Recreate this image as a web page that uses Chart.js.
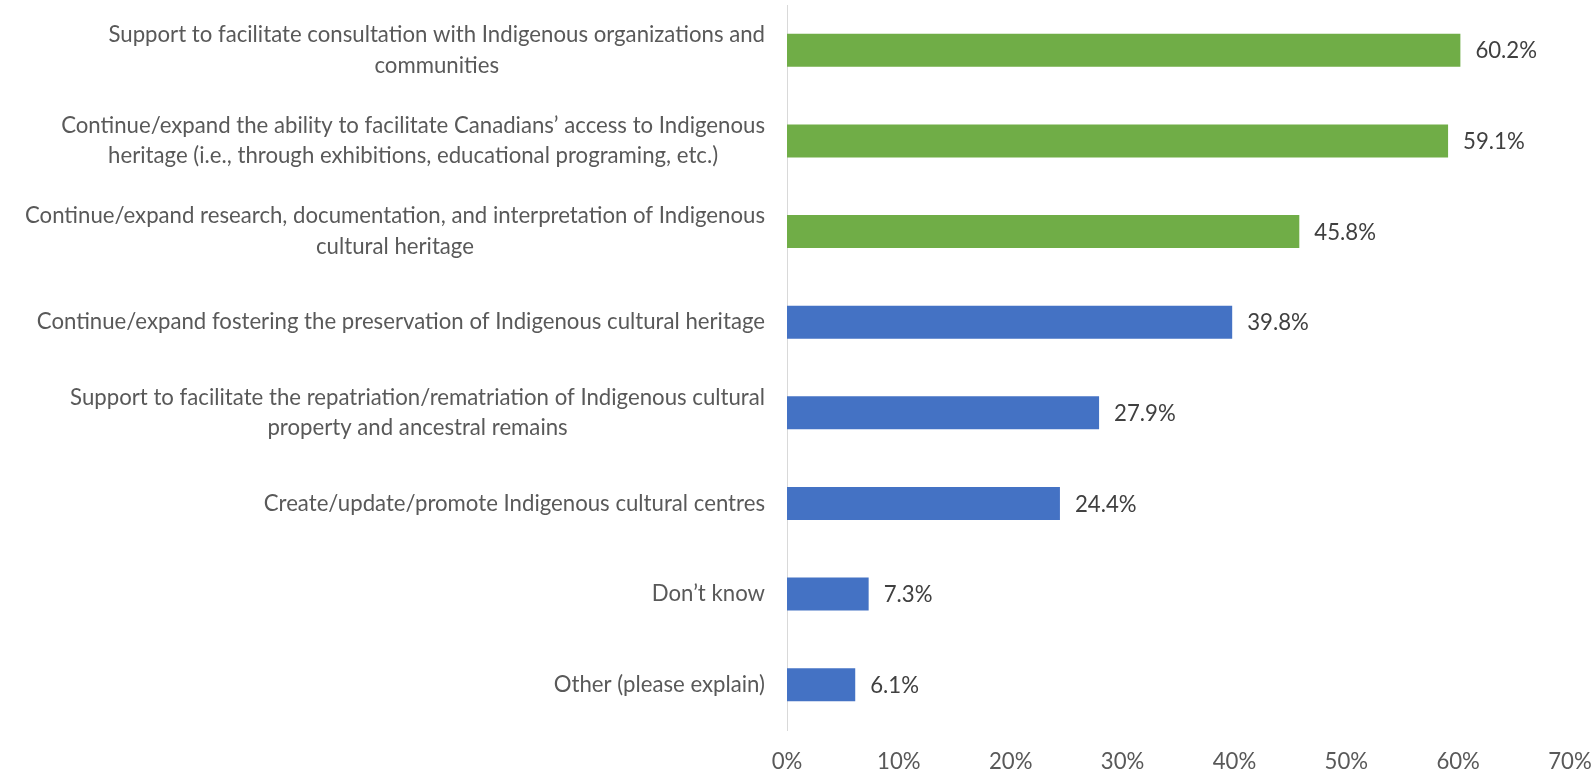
<!DOCTYPE html>
<html>
<head>
<meta charset="utf-8">
<script src="https://cdn.jsdelivr.net/npm/chart.js@4/dist/chart.umd.min.js"></script>
<style>
html,body{margin:0;padding:0;background:#fff;}
#wrap{width:1594px;height:772px;position:relative;}
</style>
</head>
<body>
<div id="wrap"><canvas id="c" width="1594" height="772"></canvas></div>
<script>
const categories = [
  ["Support to facilitate consultation with Indigenous organizations and", "communities"],
  ["Continue/expand the ability to facilitate Canadians\u2019 access to Indigenous", "heritage (i.e., through exhibitions, educational programing, etc.)"],
  ["Continue/expand research, documentation, and interpretation of Indigenous", "cultural heritage"],
  ["Continue/expand fostering the preservation of Indigenous cultural heritage"],
  ["Support to facilitate the repatriation/rematriation of Indigenous cultural", "property and ancestral remains"],
  ["Create/update/promote Indigenous cultural centres"],
  ["Don\u2019t know"],
  ["Other (please explain)"]
];
const values = [60.2, 59.1, 45.8, 39.8, 27.9, 24.4, 7.3, 6.1];
const highlighted = [true, true, true, false, false, false, false, false];
const xTicks = [0, 10, 20, 30, 40, 50, 60, 70];

const GREEN = '#70AD47', BLUE = '#4472C4';
const FONT = 'Lato, "Open Sans", sans-serif';
const FS = 22.2;
const VFS = 22.2;

const labelPlugin = {
  id: 'catLabels',
  afterDraw(chart) {
    const ctx = chart.ctx;
    const y = chart.scales.y;
    const rightEdge = chart.chartArea.left - 22;
    ctx.save();
    ctx.font = FS + 'px ' + FONT;
    ctx.fillStyle = '#595959';
    ctx.textAlign = 'center';
    ctx.textBaseline = 'middle';
    const lh = 30.5;
    categories.forEach((lines, i) => {
      const cy = y.getPixelForTick(i);
      let w = 0;
      lines.forEach(l => { w = Math.max(w, ctx.measureText(l).width); });
      const cx = rightEdge - w / 2;
      const top = cy - (lines.length - 1) * lh / 2;
      lines.forEach((l, k) => ctx.fillText(l, cx, top + k * lh));
    });
    ctx.restore();
  }
};

const valuePlugin = {
  id: 'valLabels',
  afterDatasetsDraw(chart) {
    const ctx = chart.ctx;
    const meta = chart.getDatasetMeta(0);
    ctx.save();
    ctx.font = VFS + 'px ' + FONT;
    ctx.fillStyle = '#404040';
    ctx.textAlign = 'left';
    ctx.textBaseline = 'middle';
    meta.data.forEach((bar, i) => {
      ctx.fillText(values[i].toFixed(1) + '%', bar.x + 15, bar.y + 1);
    });
    ctx.restore();
  }
};

new Chart(document.getElementById('c'), {
  type: 'bar',
  data: {
    labels: categories,
    datasets: [{
      data: values,
      backgroundColor: highlighted.map(h => h ? GREEN : BLUE),
      borderWidth: 0,
      barPercentage: 0.728,
      categoryPercentage: 0.5
    }]
  },
  options: {
    indexAxis: 'y',
    responsive: false,
    animation: false,
    layout: { padding: { top: 5, right: 0, left: 0, bottom: 0 } },
    plugins: { legend: { display: false }, tooltip: { enabled: false } },
    scales: {
      x: {
        min: 0, max: 70,
        afterBuildTicks(s) { s.ticks = xTicks.map(v => ({ value: v })); },
        afterFit(s) { s.height = 42; s.paddingRight = 24; },
        grid: { display: false, drawTicks: false },
        border: { display: false },
        ticks: {
          color: '#595959',
          font: { family: FONT, size: FS },
          padding: 19,
          callback: v => v + '%'
        }
      },
      y: {
        grid: { display: false },
        border: { display: true, color: '#D9D9D9', width: 1 },
        ticks: { display: false },
        afterFit(s) { s.width = 787; }
      }
    }
  },
  plugins: [labelPlugin, valuePlugin]
});
</script>
</body>
</html>
